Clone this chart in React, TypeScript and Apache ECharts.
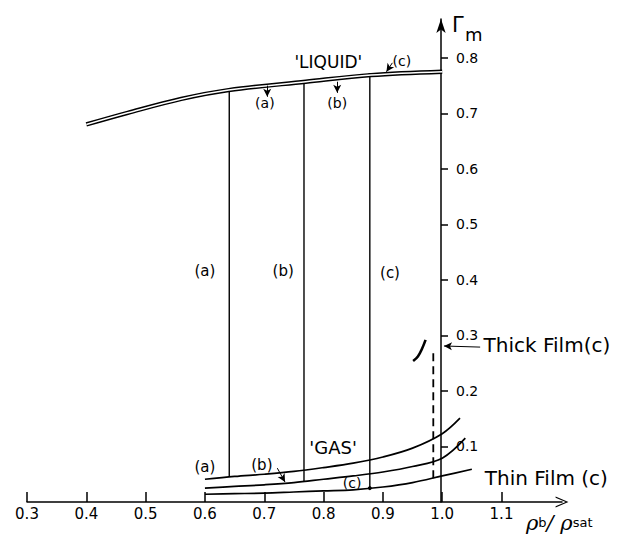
import React, { useEffect, useRef } from "react";
import * as echarts from "echarts";

// ---- axis ticks ----
const xTickValues = [0.3, 0.4, 0.5, 0.6, 0.7, 0.8, 0.9, 1.0, 1.1];
const yTickValues = [0.1, 0.2, 0.3, 0.4, 0.5, 0.6, 0.7, 0.8];

// ---- 'LIQUID' branch ----
const liquidX = [0.4, 0.47, 0.56, 0.64, 0.77, 0.88, 1.0];
const liquidY = [0.68, 0.701, 0.726, 0.742, 0.757, 0.769, 0.775];

// ---- 'GAS' branches (a), (b), (c) ----
const gasAX = [0.6, 0.65, 0.7, 0.75, 0.8, 0.85, 0.9, 0.95, 1.0, 1.03];
const gasAY = [0.041, 0.046, 0.05, 0.055, 0.062, 0.07, 0.081, 0.097, 0.123, 0.151];
const gasBX = [0.6, 0.65, 0.7, 0.75, 0.8, 0.85, 0.9, 0.95, 1.0, 1.039];
const gasBY = [0.025, 0.028, 0.031, 0.035, 0.041, 0.047, 0.054, 0.064, 0.079, 0.115];
const gasCX = [0.6, 0.65, 0.7, 0.75, 0.8, 0.85, 0.9, 0.95, 1.0, 1.05];
const gasCY = [0.014, 0.015, 0.016, 0.018, 0.02, 0.022, 0.027, 0.035, 0.047, 0.059];

// ---- tie lines (coexistence) ----
const tieNames = ["(a)", "(b)", "(c)"];
const tieX = [0.641, 0.767, 0.878];
const tieGasY = [0.045, 0.037, 0.025];
const tieLiquidY = [0.742, 0.757, 0.769];

// ---- thin / thick film transition (c) ----
const thickFilmX = [0.985, 0.985];
const thickFilmY = [0.043, 0.274];
const hookX = [0.951, 0.959, 0.966, 0.972];
const hookY = [0.254, 0.262, 0.276, 0.292];

// ---- annotations (data coordinates) ----
const noteText = ["'LIQUID'", "(c)", "(a)", "(b)", "(a)", "(b)", "(c)", "'GAS'", "(a)", "(b)", "(c)", "Thick Film(c)", "Thin Film (c)"];
const noteX = [0.808, 0.932, 0.701, 0.823, 0.6, 0.732, 0.912, 0.816, 0.6, 0.696, 0.848, 1.069, 1.071];
const noteY = [0.793, 0.795, 0.719, 0.719, 0.416, 0.416, 0.412, 0.099, 0.063, 0.067, 0.034, 0.283, 0.043];
const noteSize = [17, 14, 14, 14, 15, 15, 15, 18, 15, 15, 14, 20, 20];

const arrowFromX = [0.916, 0.705, 0.823, 0.722, 1.064];
const arrowFromY = [0.791, 0.75, 0.757, 0.061, 0.279];
const arrowToX = [0.906, 0.705, 0.823, 0.735, 1.003];
const arrowToY = [0.775, 0.73, 0.737, 0.036, 0.281];

const FONT = "DejaVu Sans";
const X_MIN = 0.3;
const X_MAX = 1.202;
const Y_MIN = 0;
const Y_MAX = 0.87;

const zip = (xs: number[], ys: number[]) => xs.map((x, i) => [x, ys[i]]);

const curve = (name: string, xs: number[], ys: number[], width: number, color = "#000", extra: any = {}) => ({
  type: "line",
  name,
  xAxisIndex: 0,
  yAxisIndex: 0,
  data: zip(xs, ys),
  smooth: 0.35,
  symbol: "none",
  silent: true,
  lineStyle: { color, width },
  z: 3,
  ...extra,
});

function buildOption(): any {
  const series: any[] = [];
  series.push(curve("liquid-outer", liquidX, liquidY, 4.4));
  series.push(curve("liquid-inner", liquidX, liquidY, 1.5, "#fff", { z: 4 }));
  series.push(curve("gas (a)", gasAX, gasAY, 1.7));
  series.push(curve("gas (b)", gasBX, gasBY, 1.7));
  series.push(
    curve("gas (c)", gasCX, gasCY, 1.7, "#000", {
      markLine: {
        silent: true,
        symbol: ["none", "arrow"],
        symbolSize: [6, 8],
        lineStyle: { color: "#000", width: 1, type: "solid" },
        label: { show: false },
        data: arrowFromX.map((x, i) => [
          { coord: [x, arrowFromY[i]] },
          { coord: [arrowToX[i], arrowToY[i]] },
        ]),
      },
    })
  );
  tieX.forEach((x, i) => {
    series.push({
      type: "line",
      name: "tie " + tieNames[i],
      xAxisIndex: 0,
      yAxisIndex: 0,
      data: [
        [x, tieGasY[i]],
        [x, tieLiquidY[i]],
      ],
      symbol: i === 2 ? "circle" : "none",
      symbolSize: 4,
      showSymbol: i === 2,
      itemStyle: { color: "#000" },
      lineStyle: { color: "#000", width: 1.4 },
      silent: true,
      z: 2,
    });
  });
  series.push({
    type: "line",
    name: "thick film",
    data: zip(thickFilmX, thickFilmY),
    symbol: "none",
    silent: true,
    lineStyle: { color: "#000", width: 1.8, type: [8, 5] },
  });
  series.push(curve("thick film hook", hookX, hookY, 2.6));
  series.push({
    type: "scatter",
    name: "notes",
    silent: true,
    symbolSize: 1,
    itemStyle: { color: "#fff", opacity: 0 },
    data: noteText.map((t, i) => {
      const leftAligned = t.indexOf("Film") >= 0;
      return {
        value: [noteX[i], noteY[i]],
        label: {
          show: true,
          formatter: t,
          position: leftAligned ? "right" : "inside",
          distance: 0,
          color: "#000",
          opacity: 1,
          textBorderWidth: 0,
          fontSize: noteSize[i],
          fontFamily: FONT,
        },
      };
    }),
    z: 5,
  });

  const axisLineStyle = { color: "#000", width: 1.5 };

  return {
    animation: false,
    backgroundColor: "#fff",
    grid: [
      { left: 27, top: 19, width: 535, height: 483, containLabel: false },
      { left: 441, top: 19, width: 1, height: 483, containLabel: false },
    ],
    xAxis: [
      {
        type: "value",
        gridIndex: 0,
        min: X_MIN,
        max: X_MAX,
        position: "bottom",
        axisLine: {
          show: true,
          onZero: false,
          lineStyle: axisLineStyle,
          symbol: ["none", "path://M0,14 L6,0 L12,14 L10.6,14 L6,3 L1.4,14 Z"],
          symbolSize: [11, 13],
        },
        axisTick: { show: true, inside: true, length: 10, customValues: xTickValues, lineStyle: axisLineStyle },
        axisLabel: {
          show: true,
          customValues: xTickValues,
          formatter: (v: number) => v.toFixed(1),
          color: "#000",
          fontSize: 15,
          fontFamily: FONT,
          margin: 4,
        },
        splitLine: { show: false },
      },
      { type: "value", gridIndex: 1, min: 0, max: 1, show: false },
    ],
    yAxis: [
      { type: "value", gridIndex: 0, min: Y_MIN, max: Y_MAX, show: false },
      {
        type: "value",
        gridIndex: 1,
        min: Y_MIN,
        max: Y_MAX,
        position: "left",
        axisLine: {
          show: true,
          onZero: false,
          lineStyle: axisLineStyle,
          symbol: ["none", "arrow"],
          symbolSize: [7, 14],
        },
        axisTick: { show: true, inside: true, length: 7, customValues: yTickValues, lineStyle: axisLineStyle },
        axisLabel: {
          show: true,
          inside: true,
          customValues: yTickValues,
          formatter: (v: number) => v.toFixed(1),
          color: "#000",
          fontSize: 14,
          fontFamily: FONT,
          margin: 15,
        },
        splitLine: { show: false },
      },
    ],
    graphic: [
      {
        type: "text",
        left: 452,
        top: 14,
        style: { text: "Γ", fontSize: 21, fontFamily: FONT, fill: "#000" },
      },
      {
        type: "text",
        left: 465,
        top: 25,
        style: { text: "m", fontSize: 18, fontFamily: FONT, fill: "#000" },
      },
      {
        type: "text",
        left: 526,
        top: 512,
        style: {
          text: "{r|ρ}{s|b}{r|/ ρ}{s|sat}",
          fill: "#000",
          rich: {
            r: { fontSize: 21, fontFamily: "DejaVu Serif", fontStyle: "italic", fill: "#000" },
            s: { fontSize: 13, fontFamily: FONT, fill: "#000", verticalAlign: "middle" },
          },
        },
      },
    ],
    series,
  };
}

export default function App() {
  const ref = useRef<HTMLDivElement>(null);
  useEffect(() => {
    if (!ref.current) return;
    const chart = echarts.init(ref.current, null, { renderer: "svg" });
    chart.setOption(buildOption());
    return () => chart.dispose();
  }, []);
  return (
    <div
      ref={ref}
      style={{ position: "fixed", left: 0, top: 0, width: 629, height: 539, background: "#fff" }}
    />
  );
}
